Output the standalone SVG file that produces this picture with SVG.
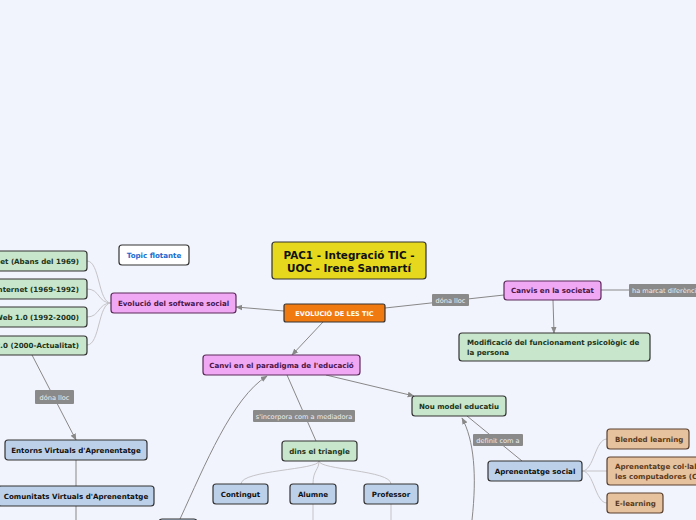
<svg xmlns="http://www.w3.org/2000/svg" width="696" height="520" viewBox="0 0 696 520">
<defs>
<marker id="arr" viewBox="0 0 10 10" refX="9" refY="5" markerWidth="7" markerHeight="7" orient="auto-start-reverse" markerUnits="userSpaceOnUse">
<path d="M0,1 L10,5 L0,9 z" fill="#888"/>
</marker>
<style>
text{font-family:"DejaVu Sans","Verdana",sans-serif;font-weight:bold;font-size:7.1px}
.n rect{stroke:#333;stroke-width:1.2}
.pink rect{fill:#f0a8f4;stroke:#5a2a5a}
.pink text{fill:#4a154a}
.green rect{fill:#c8e6cb}
.green text{fill:#1c331c}
.blue rect{fill:#bdd0ea}
.blue text{fill:#111}
.tan rect{fill:#e6c29e;stroke:#5a4030}
.tan text{fill:#5a3a1c}
.lbl rect{fill:#8a8a8a;stroke:none}
.lbl text{fill:#eee;font-weight:normal;font-size:6.6px}
.c{fill:none;stroke:#888;stroke-width:1}
.s{fill:none;stroke:#c4c4c8;stroke-width:1}
</style>
</defs>
<rect width="696" height="520" fill="#f2f4fd"/>

<g id="connectors">
<path class="s" d="M111,303 C98,303 100,261 87,261"/>
<path class="s" d="M111,303 C98,303 100,289 87,289"/>
<path class="s" d="M111,303 C98,303 100,317 87,317"/>
<path class="s" d="M111,303 C98,303 100,345 87,345"/>
<path class="c" d="M284,311 L236,307" marker-end="url(#arr)"/>
<path class="c" d="M385,308 L504,295"/>
<path class="c" d="M601,290 L629,290"/>
<path class="c" d="M553,300 L554,333" marker-end="url(#arr)"/>
<path class="c" d="M323,322 L292,355" marker-end="url(#arr)"/>
<path class="c" d="M326,375 L414,396" marker-end="url(#arr)"/>
<path class="c" d="M287,375 L316,441"/>
<path class="s" d="M319,461 C319,470 241,470 241,484"/>
<path class="s" d="M319,461 C319,470 313,470 313,484"/>
<path class="s" d="M319,461 C319,470 391,470 391,484"/>
<path class="s" d="M313,504 L313,520"/>
<path class="s" d="M391,504 L391,520"/>
<path class="c" d="M32,355 L76,440" marker-end="url(#arr)"/>
<path class="c" d="M76,460 L76,520"/>
<path class="c" d="M180,519 C205,465 232,398 267,376" marker-end="url(#arr)"/>
<path class="c" d="M472,520 C477,475 474,440 462,418" marker-end="url(#arr)"/>
<path class="c" d="M467,416 L522,461"/>
<path class="s" d="M582,471 C594,471 595,439 607,439"/>
<path class="s" d="M582,471 L607,471"/>
<path class="s" d="M582,471 C594,471 595,503 607,503"/>
</g>

<g id="title" class="n">
<rect x="272" y="242" width="154" height="37" rx="3" fill="#e6d81c" stroke="#222"/>
<text x="349" y="259" text-anchor="middle" style="font-size:10.4px" fill="#111">PAC1 - Integració TIC -</text>
<text x="349" y="272" text-anchor="middle" style="font-size:10.4px" fill="#111">UOC - Irene Sanmartí</text>
</g>

<g id="evolucio-tic" class="n">
<rect x="284" y="304" width="101" height="18" rx="2" fill="#f07a10" stroke="#fff"/>
<text x="334.5" y="315.5" text-anchor="middle" fill="#fff" style="font-size:6.5px">EVOLUCIÓ DE LES TIC</text>
</g>

<g id="topic-flotante" class="n">
<rect x="119" y="245" width="70" height="20" rx="3" fill="#fff" stroke="#1a7ae0"/>
<text x="154" y="257.5" text-anchor="middle" fill="#1a6ad0">Topic flotante</text>
</g>

<g id="software-social" class="n pink">
<rect x="111" y="293" width="125" height="20" rx="3"/>
<text x="173.5" y="305.5" text-anchor="middle">Evolució del software social</text>
</g>

<g id="pre-internet" class="n green">
<rect x="-10" y="251" width="97" height="20" rx="3"/>
<text x="79" y="263.5" text-anchor="end">Pre-Internet (Abans del 1969)</text>
</g>
<g id="internet" class="n green">
<rect x="-10" y="279" width="97" height="20" rx="3"/>
<text x="79" y="291.5" text-anchor="end">Internet (1969-1992)</text>
</g>
<g id="web1" class="n green">
<rect x="-10" y="307" width="97" height="20" rx="3"/>
<text x="79" y="319.5" text-anchor="end">Web 1.0 (1992-2000)</text>
</g>
<g id="web2" class="n green">
<rect x="-10" y="336" width="97" height="19" rx="3"/>
<text x="79" y="348" text-anchor="end">Web 2.0 (2000-Actualitat)</text>
</g>

<g id="lbl-dona-lloc-1" class="lbl">
<rect x="432" y="294" width="37" height="12" rx="1"/>
<text x="450.5" y="302.5" text-anchor="middle">dóna lloc</text>
</g>

<g id="canvis-societat" class="n pink">
<rect x="504" y="281" width="97" height="19" rx="3"/>
<text x="552.5" y="293" text-anchor="middle">Canvis en la societat</text>
</g>

<g id="lbl-ha-marcat" class="lbl">
<rect x="629" y="284" width="80" height="13" rx="1"/>
<text x="632" y="293" text-anchor="start">ha marcat diferències</text>
</g>

<g id="modificacio" class="n green">
<rect x="459" y="333" width="191" height="28" rx="3"/>
<text x="467" y="344.5">Modificació del funcionament psicològic de</text>
<text x="467" y="354.5">la persona</text>
</g>

<g id="canvi-paradigma" class="n pink">
<rect x="203" y="355" width="157" height="20" rx="3"/>
<text x="281.5" y="367.5" text-anchor="middle">Canvi en el paradigma de l'educació</text>
</g>

<g id="nou-model" class="n green">
<rect x="412" y="396" width="94" height="20" rx="3"/>
<text x="459" y="408.5" text-anchor="middle">Nou model educatiu</text>
</g>

<g id="lbl-sincorpora" class="lbl">
<rect x="253" y="410" width="102" height="12" rx="1"/>
<text x="304" y="418.5" text-anchor="middle">s'incorpora com a mediadora</text>
</g>

<g id="dins-triangle" class="n green">
<rect x="282" y="441" width="75" height="20" rx="3"/>
<text x="319.5" y="453.5" text-anchor="middle">dins el triangle</text>
</g>

<g id="contingut" class="n blue">
<rect x="213" y="484" width="55" height="20" rx="3"/>
<text x="240.5" y="496.5" text-anchor="middle">Contingut</text>
</g>
<g id="alumne" class="n blue">
<rect x="290" y="484" width="46" height="20" rx="3"/>
<text x="313" y="496.5" text-anchor="middle">Alumne</text>
</g>
<g id="professor" class="n blue">
<rect x="364" y="484" width="54" height="20" rx="3"/>
<text x="391" y="496.5" text-anchor="middle">Professor</text>
</g>

<g id="lbl-dona-lloc-2" class="lbl">
<rect x="35" y="390" width="39" height="14" rx="1"/>
<text x="54.5" y="399.5" text-anchor="middle">dóna lloc</text>
</g>

<g id="entorns" class="n blue">
<rect x="5" y="440" width="142" height="20" rx="3"/>
<text x="76" y="452.5" text-anchor="middle">Entorns Virtuals d'Aprenentatge</text>
</g>
<g id="comunitats" class="n blue">
<rect x="-2" y="486" width="156" height="20" rx="3"/>
<text x="76" y="498.5" text-anchor="middle">Comunitats Virtuals d'Aprenentatge</text>
</g>

<g id="bottom-node" class="n blue">
<rect x="159" y="519" width="38" height="20" rx="3"/>
</g>

<g id="lbl-definit" class="lbl">
<rect x="473" y="434" width="50" height="12" rx="1"/>
<text x="498" y="442.5" text-anchor="middle">definit com a</text>
</g>

<g id="aprenentatge-social" class="n blue">
<rect x="488" y="461" width="94" height="20" rx="3"/>
<text x="535" y="473.5" text-anchor="middle">Aprenentatge social</text>
</g>

<g id="blended" class="n tan">
<rect x="607" y="429" width="82" height="20" rx="3"/>
<text x="615" y="441.5">Blended learning</text>
</g>
<g id="cscl" class="n tan">
<rect x="607" y="457" width="120" height="28" rx="3"/>
<text x="615" y="468.5">Aprenentatge col·laboratiu recolzat per</text>
<text x="615" y="478.5">les computadores (CSCL)</text>
</g>
<g id="elearning" class="n tan">
<rect x="607" y="493" width="56" height="20" rx="3"/>
<text x="615" y="505.5">E-learning</text>
</g>
</svg>
